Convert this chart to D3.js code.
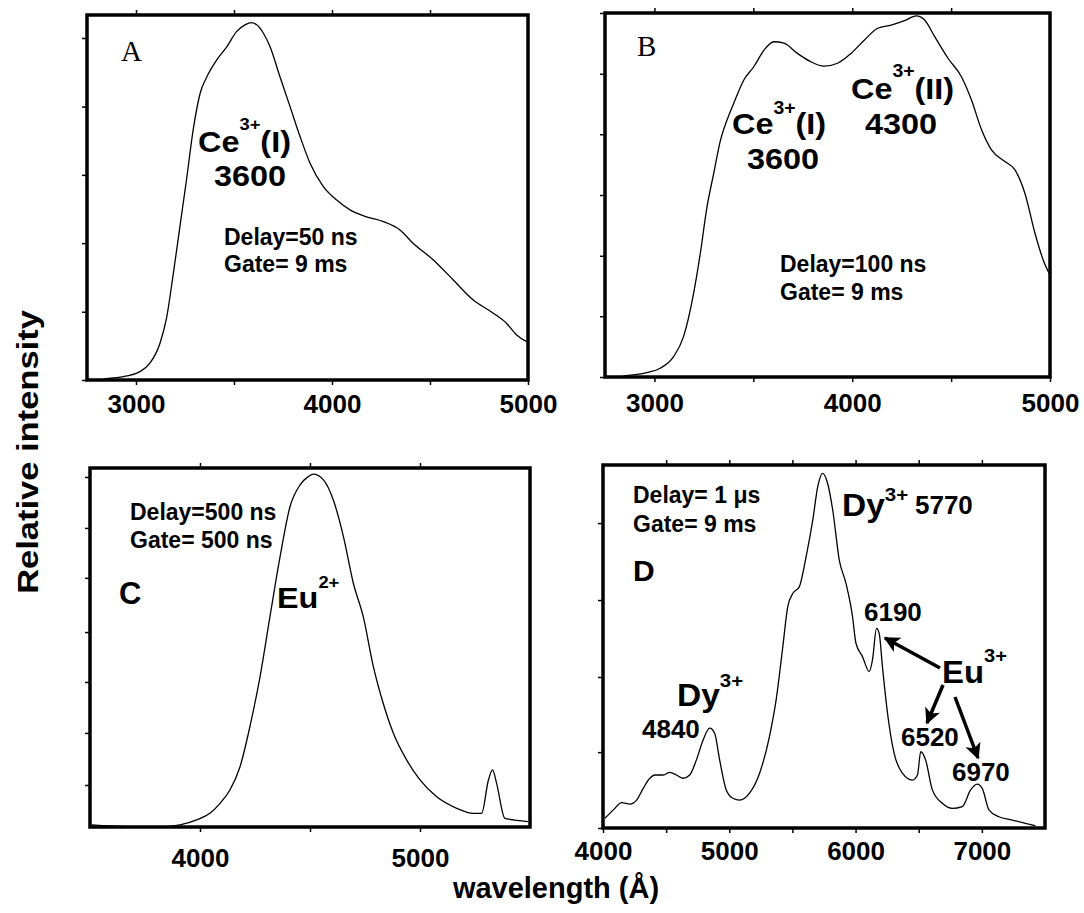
<!DOCTYPE html>
<html>
<head>
<meta charset="utf-8">
<script src="https://cdnjs.cloudflare.com/ajax/libs/d3/7.8.5/d3.min.js"></script>
<style>
  body { margin: 0; background: #fff; }
  svg { display: block; }
  text { font-family: "Liberation Sans", Arial, Helvetica, sans-serif; font-weight: bold; fill: #000; }
  .tick line { stroke: #000; stroke-width: 1.5; }
  .tick text { font-size: 26px; }
</style>
</head>
<body>
<svg id="chart" width="1084" height="913"></svg>
<script>
/* global d3 */

// spectra: [wavelength (Å), relative intensity (0 = bottom frame, 1 = top frame)]
var spectrumA = [
    [2834, 0.003], [2952, 0.011], [3020, 0.023], [3071, 0.046], [3122, 0.10],
    [3156, 0.17], [3190, 0.29], [3224, 0.42], [3258, 0.55], [3293, 0.69],
    [3327, 0.785], [3361, 0.83], [3412, 0.877], [3463, 0.913], [3514, 0.955],
    [3556, 0.973], [3590, 0.979], [3616, 0.973], [3650, 0.95], [3684, 0.913],
    [3735, 0.83], [3786, 0.749], [3837, 0.667], [3888, 0.594], [3956, 0.53],
    [4024, 0.493], [4092, 0.466], [4177, 0.447], [4262, 0.434], [4347, 0.411],
    [4415, 0.374], [4517, 0.329], [4619, 0.274], [4721, 0.219], [4823, 0.183],
    [4891, 0.155], [4942, 0.123], [4993, 0.105]
];

var spectrumB = [
    [2843, 0.003], [2961, 0.012], [3029, 0.024], [3097, 0.056], [3147, 0.111],
    [3198, 0.23], [3232, 0.34], [3266, 0.468], [3300, 0.56], [3334, 0.651],
    [3367, 0.706], [3401, 0.752], [3452, 0.816], [3503, 0.853], [3554, 0.898],
    [3604, 0.921], [3655, 0.917], [3723, 0.889], [3791, 0.866], [3858, 0.854],
    [3926, 0.862], [3994, 0.889], [4062, 0.926], [4129, 0.958], [4197, 0.967],
    [4265, 0.979], [4324, 0.992], [4366, 0.981], [4417, 0.935], [4485, 0.875],
    [4552, 0.825], [4603, 0.761], [4654, 0.679], [4704, 0.624], [4772, 0.592],
    [4823, 0.569], [4873, 0.505], [4924, 0.395], [4966, 0.321], [5000, 0.28]
];

var spectrumC = [
    [3508, 0.006], [3667, 0.001], [3818, 0.0], [3909, 0.006], [3985, 0.02],
    [4045, 0.038], [4091, 0.066], [4136, 0.103], [4182, 0.168], [4227, 0.28],
    [4273, 0.419], [4318, 0.586], [4364, 0.753], [4409, 0.892], [4455, 0.953],
    [4492, 0.976], [4515, 0.983], [4561, 0.967], [4606, 0.911], [4652, 0.809],
    [4697, 0.679], [4742, 0.586], [4788, 0.447], [4833, 0.344], [4879, 0.261],
    [4939, 0.187], [5000, 0.131], [5076, 0.084], [5167, 0.052], [5242, 0.038],
    [5280, 0.038], [5311, 0.131], [5330, 0.159], [5348, 0.122], [5386, 0.024],
    [5424, 0.02], [5492, 0.015]
];

var spectrumD = [
    [4016, 0.027], [4082, 0.05], [4148, 0.07], [4213, 0.066], [4266, 0.077],
    [4318, 0.109], [4371, 0.137], [4411, 0.146], [4476, 0.146], [4529, 0.153],
    [4582, 0.146], [4634, 0.137], [4687, 0.146], [4739, 0.187], [4792, 0.242],
    [4845, 0.275], [4884, 0.261], [4924, 0.187], [4976, 0.105], [5029, 0.082],
    [5082, 0.077], [5160, 0.096], [5240, 0.151], [5318, 0.252], [5371, 0.353],
    [5424, 0.5], [5463, 0.61], [5503, 0.646], [5555, 0.665], [5608, 0.747],
    [5661, 0.848], [5700, 0.94], [5740, 0.977], [5779, 0.949], [5819, 0.876],
    [5871, 0.738], [5924, 0.674], [5976, 0.582], [6003, 0.509], [6055, 0.472],
    [6108, 0.431], [6134, 0.463], [6166, 0.55], [6187, 0.536], [6213, 0.444],
    [6253, 0.316], [6305, 0.206], [6371, 0.151], [6450, 0.132], [6490, 0.146],
    [6516, 0.21], [6555, 0.187], [6608, 0.105], [6687, 0.068], [6766, 0.054],
    [6845, 0.059], [6911, 0.105], [6964, 0.121], [7003, 0.109], [7056, 0.05],
    [7134, 0.031], [7240, 0.022], [7345, 0.013], [7424, 0.006]
];

// axis ticks
var xTicksAB = [3000, 3500, 4000, 4500, 5000];
var xTicksC = [4000, 4500, 5000];
var xTicksD = [4000, 4500, 5000, 5500, 6000, 6500, 7000];
var yTicksA = [0, 0.187, 0.375, 0.562, 0.749, 0.937];
var yTicksB = [0, 0.167, 0.333, 0.5, 0.667, 0.833, 1];
var yTicksC = [0.117, 0.262, 0.404, 0.543, 0.694, 0.833, 0.975];
var yTicksD = [0, 0.209, 0.416, 0.628, 0.84];

var svg = d3.select("#chart");

function drawPanel(cfg) {
    var g = svg.append("g")
        .attr("transform", "translate(" + cfg.left + "," + cfg.top + ")");

    var x = d3.scaleLinear().domain(cfg.xDomain).range([0, cfg.width]);
    var y = d3.scaleLinear().domain([0, 1]).range([cfg.height, 0]);

    g.append("g")
        .attr("transform", "translate(0," + cfg.height + ")")
        .call(d3.axisBottom(x).tickValues(cfg.xTicks).tickSize(5).tickPadding(cfg.pad)
            .tickFormat(function(d) { return d % 1000 === 0 ? d : ""; }));

    g.append("g")
        .call(d3.axisTop(x).tickValues(cfg.topTicks).tickSize(5).tickFormat(""));

    g.append("g")
        .call(d3.axisLeft(y).tickValues(cfg.yTicks).tickSize(5).tickFormat(""));

    g.selectAll(".domain").remove();

    var line = d3.line()
        .x(function(d) { return x(d[0]); })
        .y(function(d) { return y(d[1]); })
        .curve(d3.curveMonotoneX);

    g.append("path")
        .datum(cfg.data)
        .attr("fill", "none")
        .attr("stroke", "#000")
        .attr("stroke-width", 1.3)
        .attr("d", line);

    g.append("rect")
        .attr("width", cfg.width)
        .attr("height", cfg.height)
        .attr("fill", "none")
        .attr("stroke", "#000")
        .attr("stroke-width", 3.5);

    return g;
}

// text with optional superscript parts, stretched horizontally
function label(g, px, py, parts, size, stretch, anchor) {
    var t = g.append("text")
        .attr("transform", "translate(" + px + "," + py + ") scale(" + (stretch || 1) + ",1)")
        .attr("text-anchor", anchor || "start")
        .style("font-size", size + "px");
    var raised = 0;
    parts.forEach(function(p) {
        var s = t.append("tspan").text(p.t);
        if (p.sup) {
            s.style("font-size", p.sup + "px").attr("dy", -p.rise);
            raised = p.rise;
        } else if (raised) {
            s.attr("dy", raised);
            raised = 0;
        }
    });
    return t;
}

function plain(g, px, py, str, size, stretch, anchor) {
    return label(g, px, py, [{ t: str }], size, stretch, anchor);
}

function letter(g, px, py, str) {
    g.append("text").attr("x", px).attr("y", py)
        .style("font-family", "'Liberation Serif', 'Times New Roman', serif")
        .style("font-weight", "normal").style("font-size", "29px").text(str);
}

// Panel A
var gA = drawPanel({ left: 87, top: 15, width: 441, height: 365, xDomain: [2750, 5000],
    xTicks: xTicksAB, topTicks: [3000, 3500, 4000, 4500], yTicks: yTicksA, pad: 10, data: spectrumA });
letter(gA, 34, 46, "A");
label(gA, 111, 137, [{ t: "Ce" }, { t: "3+", sup: 17, rise: 22 }, { t: "(I)" }], 30, 1.08);
plain(gA, 163, 171, "3600", 30, 1.08, "middle");
plain(gA, 137, 230, "Delay=50 ns", 23, 1.0);
plain(gA, 137, 257, "Gate= 9 ms", 23, 1.0);

// Panel B
var gB = drawPanel({ left: 605, top: 13, width: 445, height: 364, xDomain: [2750, 5000],
    xTicks: xTicksAB, topTicks: [3000, 3500, 4000, 4500], yTicks: yTicksB, pad: 12, data: spectrumB });
letter(gB, 32, 43, "B");
label(gB, 127, 121, [{ t: "Ce" }, { t: "3+", sup: 18, rise: 20 }, { t: "(I)" }], 30, 1.08);
plain(gB, 178, 156, "3600", 30, 1.08, "middle");
label(gB, 246, 86, [{ t: "Ce" }, { t: "3+", sup: 18, rise: 22 }, { t: "(II)" }], 30, 1.08);
plain(gB, 296, 121, "4300", 30, 1.08, "middle");
plain(gB, 175, 259, "Delay=100 ns", 23, 1.0);
plain(gB, 175, 287, "Gate= 9 ms", 23, 1.0);

// Panel C
var gC = drawPanel({ left: 90, top: 468, width: 440, height: 359, xDomain: [3500, 5500],
    xTicks: xTicksC, topTicks: xTicksC, yTicks: yTicksC, pad: 17, data: spectrumC });
plain(gC, 40, 52, "Delay=500 ns", 23, 1.0);
plain(gC, 40, 80, "Gate= 500 ns", 23, 1.0);
plain(gC, 29, 136, "C", 31, 1);
label(gC, 187, 140, [{ t: "Eu" }, { t: "2+", sup: 17, rise: 20 }], 30, 1.08);

// Panel D
var gD = drawPanel({ left: 603, top: 465, width: 442, height: 363, xDomain: [4000, 7500],
    xTicks: xTicksD, topTicks: [4500, 5000, 5500, 6000, 6500, 7000], yTicks: yTicksD, pad: 9, data: spectrumD });
label(gD, 30, 38, [{ t: "Delay= 1 " }, { t: "\u03bc" }, { t: "s" }], 23, 1.0);
plain(gD, 30, 67, "Gate= 9 ms", 23, 1.0);
plain(gD, 30, 116, "D", 30, 1);
label(gD, 239, 51, [{ t: "Dy" }, { t: "3+", sup: 19, rise: 15 }], 31, 1.08);
plain(gD, 312, 49, "5770", 25, 1.04);
plain(gD, 261, 156, "6190", 25, 1.04);
label(gD, 339, 218, [{ t: "Eu" }, { t: "3+", sup: 19, rise: 21 }], 31, 1.06);
label(gD, 74, 241, [{ t: "Dy" }, { t: "3+", sup: 19, rise: 19 }], 31, 1.08);
plain(gD, 39, 273, "4840", 25, 1.04);
plain(gD, 298, 281, "6520", 25, 1.04);
plain(gD, 349, 316, "6970", 25, 1.04);

svg.append("defs").append("marker")
    .attr("id", "head")
    .attr("markerUnits", "userSpaceOnUse")
    .attr("viewBox", "0 0 10 10")
    .attr("refX", 9).attr("refY", 5)
    .attr("markerWidth", 17).attr("markerHeight", 16)
    .attr("orient", "auto")
    .append("path").attr("d", "M0,0 L10,5 L0,10 L2.5,5 Z").attr("fill", "#000");

var arrows = [
    [[337, 203], [282, 173]],
    [[340, 220], [324, 258]],
    [[352, 232], [375, 293]]
];
gD.selectAll(".arrow").data(arrows).enter().append("line")
    .attr("class", "arrow")
    .attr("x1", function(d) { return d[0][0]; })
    .attr("y1", function(d) { return d[0][1]; })
    .attr("x2", function(d) { return d[1][0]; })
    .attr("y2", function(d) { return d[1][1]; })
    .attr("stroke", "#000")
    .attr("stroke-width", 3.5)
    .attr("marker-end", "url(#head)");

// shared axis titles
svg.append("text")
    .attr("transform", "translate(38,452) rotate(-90) scale(1.15,1)")
    .attr("text-anchor", "middle")
    .style("font-size", "30px")
    .text("Relative intensity");

svg.append("text")
    .attr("x", 556).attr("y", 898)
    .attr("text-anchor", "middle")
    .style("font-size", "29px")
    .text("wavelength (\u00c5)");
</script>
</body>
</html>
